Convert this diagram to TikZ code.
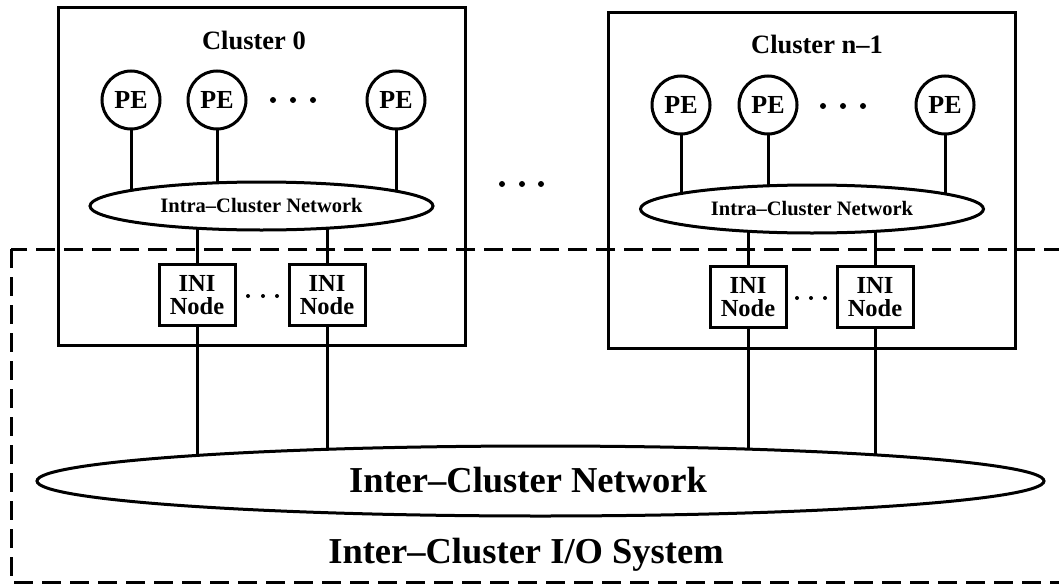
\documentclass[tikz,border=0pt]{standalone}
\usepackage{fontspec}
\setmainfont{Liberation Serif}
\usetikzlibrary{shapes.geometric}
\pgfdeclarelayer{bg}
\pgfsetlayers{bg,main}
\begin{document}
\begin{tikzpicture}[x=1pt,y=-1pt,
  lw/.style={line width=3pt},
  pe/.style={lw, circle, draw, fill=white, minimum size=58pt, inner sep=0pt, font=\fontsize{26}{26}\selectfont\bfseries},
  intra/.style={lw, ellipse, draw, fill=white, minimum width=343pt, minimum height=48pt, inner sep=0pt, font=\fontsize{20.5}{21}\selectfont\bfseries},
  ini/.style={lw, rectangle, draw, fill=white, minimum width=76pt, minimum height=61pt, inner sep=0pt, align=center, font=\fontsize{24.5}{23}\selectfont\bfseries},
  cluster/.style={lw, rectangle, draw, minimum width=407pt, inner sep=0pt},
  title/.style={anchor=base, inner sep=0pt, font=\fontsize{26.5}{26}\selectfont\bfseries},
  big/.style={anchor=base, inner sep=0pt, font=\fontsize{36.5}{37}\selectfont\bfseries},
  iodash/.style={lw, dash pattern=on 19pt off 9pt},
  link/.style={lw},
  bigdot/.style={fill=black},
]
\useasboundingbox (0,0) rectangle (1059,586);
\clip (0,0) rectangle (1059,586);

% cluster boxes
\node[cluster, minimum height=337pt] (c0) at (261.5,176.5) {};
\node[cluster, minimum height=335pt] (c1) at (811.5,180.5) {};

% titles
\node[title] (t0) at (254,49) {Cluster 0};
\node[title] (t1) at (817,54) {Cluster n–1};

% PEs
\node[pe] (p01) at (131,100) {PE};
\node[pe] (p02) at (217,100) {PE};
\node[pe] (p03) at (396,100) {PE};
\node[pe] (p11) at (681,105) {PE};
\node[pe] (p12) at (768,105) {PE};
\node[pe] (p13) at (945,105) {PE};

\foreach \x in {273,293,313} \fill[bigdot] (\x,100) circle (3pt);
\foreach \x in {823,843,863} \fill[bigdot] (\x,106) circle (3pt);
\foreach \x in {502,522,541} \fill[bigdot] (\x,184) circle (3pt);

% intra-cluster networks
\node[intra] (n0) at (261.5,206) {Intra–Cluster Network};
\node[intra] (n1) at (812,209) {Intra–Cluster Network};

% INI nodes
\node[ini] (i01) at (197,295) {INI\\Node};
\node[ini] (i02) at (327,295) {INI\\Node};
\node[ini] (i11) at (748,297) {INI\\Node};
\node[ini] (i12) at (875,297) {INI\\Node};

\foreach \x in {248,263,277} \fill[bigdot] (\x,296) circle (2pt);
\foreach \x in {797,811,825} \fill[bigdot] (\x,298) circle (2pt);

% inter-cluster network
\node[lw, ellipse, draw, fill=white, minimum width=1007pt, minimum height=70pt, inner sep=0pt] (net) at (540.5,481) {};
\node[big] (netlabel) at (528,492) {Inter–Cluster Network};

% I/O system
\draw[iodash] (11,249) rectangle (1100,582);
\node[big] (iolabel) at (526,563) {Inter–Cluster I/O System};

% connectors
\begin{pgfonlayer}{bg}
\begin{scope}[lw]
\foreach \p in {p01,p02,p03} \draw[link] (\p.center) -- (\p |- n0.center);
\foreach \p in {p11,p12,p13} \draw[link] (\p.center) -- (\p |- n1.center);
\foreach \i in {i01,i02} \draw[link] (\i |- n0.center) -- (\i.center);
\foreach \i in {i11,i12} \draw[link] (\i |- n1.center) -- (\i.center);
\foreach \i in {i01,i02,i11,i12} \draw[link] (\i.center) -- (\i |- net.center);
\end{scope}
\end{pgfonlayer}
\end{tikzpicture}
\end{document}
